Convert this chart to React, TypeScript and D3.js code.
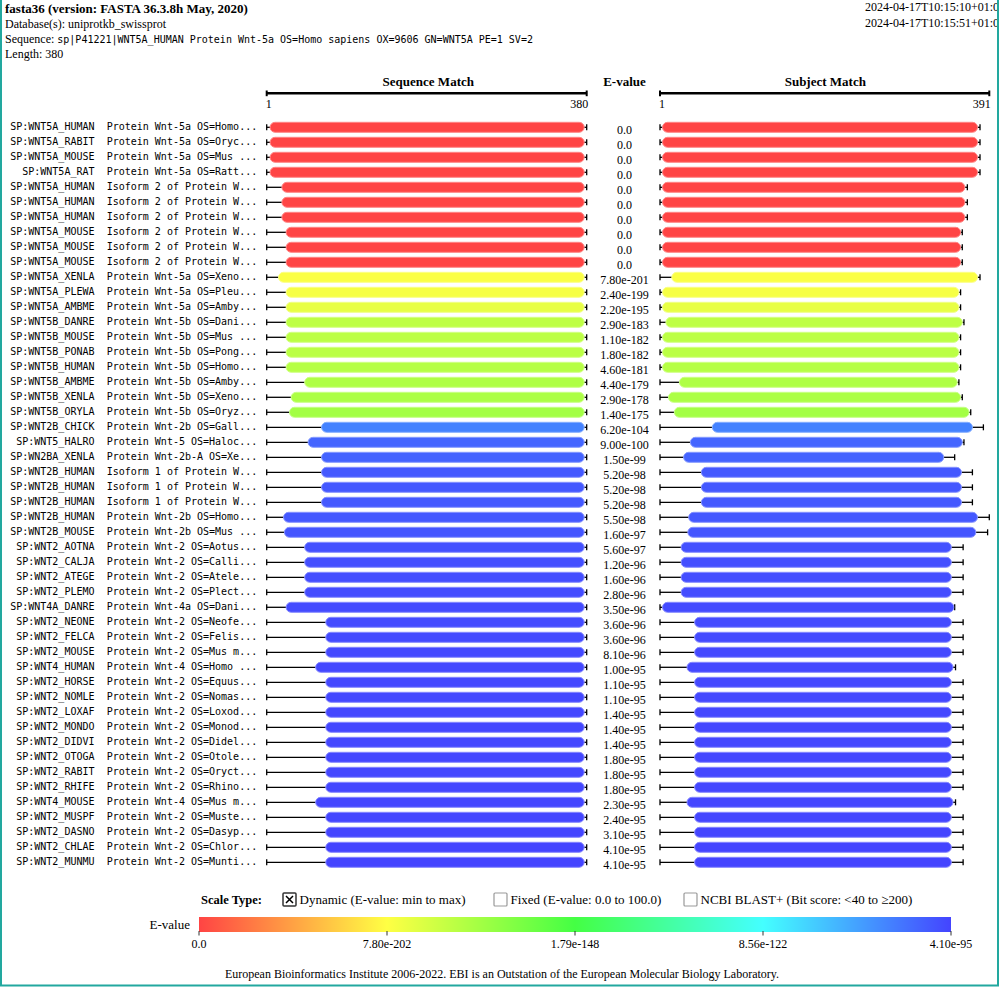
import * as d3 from "d3";

const QUERY_LEN = 380;
const SUBJECT_MAX = 391;

const hitIds = [
  "SP:WNT5A_HUMAN", "SP:WNT5A_RABIT", "SP:WNT5A_MOUSE", "SP:WNT5A_RAT", "SP:WNT5A_HUMAN",
  "SP:WNT5A_HUMAN", "SP:WNT5A_HUMAN", "SP:WNT5A_MOUSE", "SP:WNT5A_MOUSE", "SP:WNT5A_MOUSE",
  "SP:WNT5A_XENLA", "SP:WNT5A_PLEWA", "SP:WNT5A_AMBME", "SP:WNT5B_DANRE", "SP:WNT5B_MOUSE",
  "SP:WNT5B_PONAB", "SP:WNT5B_HUMAN", "SP:WNT5B_AMBME", "SP:WNT5B_XENLA", "SP:WNT5B_ORYLA",
  "SP:WNT2B_CHICK", "SP:WNT5_HALRO", "SP:WN2BA_XENLA", "SP:WNT2B_HUMAN", "SP:WNT2B_HUMAN",
  "SP:WNT2B_HUMAN", "SP:WNT2B_HUMAN", "SP:WNT2B_MOUSE", "SP:WNT2_AOTNA", "SP:WNT2_CALJA",
  "SP:WNT2_ATEGE", "SP:WNT2_PLEMO", "SP:WNT4A_DANRE", "SP:WNT2_NEONE", "SP:WNT2_FELCA",
  "SP:WNT2_MOUSE", "SP:WNT4_HUMAN", "SP:WNT2_HORSE", "SP:WNT2_NOMLE", "SP:WNT2_LOXAF",
  "SP:WNT2_MONDO", "SP:WNT2_DIDVI", "SP:WNT2_OTOGA", "SP:WNT2_RABIT", "SP:WNT2_RHIFE",
  "SP:WNT4_MOUSE", "SP:WNT2_MUSPF", "SP:WNT2_DASNO", "SP:WNT2_CHLAE", "SP:WNT2_MUNMU",
];

const hitDescs = [
  "Protein Wnt-5a OS=Homo...", "Protein Wnt-5a OS=Oryc...", "Protein Wnt-5a OS=Mus ...", "Protein Wnt-5a OS=Ratt...", "Isoform 2 of Protein W...",
  "Isoform 2 of Protein W...", "Isoform 2 of Protein W...", "Isoform 2 of Protein W...", "Isoform 2 of Protein W...", "Isoform 2 of Protein W...",
  "Protein Wnt-5a OS=Xeno...", "Protein Wnt-5a OS=Pleu...", "Protein Wnt-5a OS=Amby...", "Protein Wnt-5b OS=Dani...", "Protein Wnt-5b OS=Mus ...",
  "Protein Wnt-5b OS=Pong...", "Protein Wnt-5b OS=Homo...", "Protein Wnt-5b OS=Amby...", "Protein Wnt-5b OS=Xeno...", "Protein Wnt-5b OS=Oryz...",
  "Protein Wnt-2b OS=Gall...", "Protein Wnt-5 OS=Haloc...", "Protein Wnt-2b-A OS=Xe...", "Isoform 1 of Protein W...", "Isoform 1 of Protein W...",
  "Isoform 1 of Protein W...", "Protein Wnt-2b OS=Homo...", "Protein Wnt-2b OS=Mus ...", "Protein Wnt-2 OS=Aotus...", "Protein Wnt-2 OS=Calli...",
  "Protein Wnt-2 OS=Atele...", "Protein Wnt-2 OS=Plect...", "Protein Wnt-4a OS=Dani...", "Protein Wnt-2 OS=Neofe...", "Protein Wnt-2 OS=Felis...",
  "Protein Wnt-2 OS=Mus m...", "Protein Wnt-4 OS=Homo ...", "Protein Wnt-2 OS=Equus...", "Protein Wnt-2 OS=Nomas...", "Protein Wnt-2 OS=Loxod...",
  "Protein Wnt-2 OS=Monod...", "Protein Wnt-2 OS=Didel...", "Protein Wnt-2 OS=Otole...", "Protein Wnt-2 OS=Oryct...", "Protein Wnt-2 OS=Rhino...",
  "Protein Wnt-4 OS=Mus m...", "Protein Wnt-2 OS=Muste...", "Protein Wnt-2 OS=Dasyp...", "Protein Wnt-2 OS=Chlor...", "Protein Wnt-2 OS=Munti...",
];

const evalues = [
  "0.0", "0.0", "0.0", "0.0", "0.0", "0.0", "0.0", "0.0", "0.0", "0.0",
  "7.80e-201", "2.40e-199", "2.20e-195", "2.90e-183", "1.10e-182", "1.80e-182", "4.60e-181", "4.40e-179", "2.90e-178", "1.40e-175",
  "6.20e-104", "9.00e-100", "1.50e-99", "5.20e-98", "5.20e-98", "5.20e-98", "5.50e-98", "1.60e-97", "5.60e-97", "1.20e-96",
  "1.60e-96", "2.80e-96", "3.50e-96", "3.60e-96", "3.60e-96", "8.10e-96", "1.00e-95", "1.10e-95", "1.10e-95", "1.40e-95",
  "1.40e-95", "1.40e-95", "1.80e-95", "1.80e-95", "1.80e-95", "2.30e-95", "2.40e-95", "3.10e-95", "4.10e-95", "4.10e-95",
];

// query coordinates (residues)
const qStart = [
  5, 5, 5, 5, 19, 19, 19, 24, 24, 24,
  15, 24, 24, 24, 24, 24, 24, 46, 30, 28,
  66, 50, 66, 66, 66, 66, 21, 22, 46, 46,
  46, 46, 24, 71, 71, 71, 59, 71, 71, 71,
  71, 71, 71, 71, 71, 59, 71, 71, 71, 71,
];
const qEnd = qStart.map(() => 377);

// subject coordinates (residues) and subject lengths
const sStart = [
  4, 4, 4, 4, 4, 4, 4, 4, 4, 4,
  15, 4, 4, 8, 4, 4, 4, 24, 11, 18,
  63, 37, 29, 50, 50, 50, 35, 34, 26, 26,
  26, 26, 4, 42, 42, 42, 33, 42, 42, 42,
  42, 42, 42, 42, 42, 33, 42, 42, 42, 42,
];
const sEnd = [
  377, 377, 377, 377, 362, 362, 362, 357, 357, 357,
  377, 355, 355, 359, 355, 355, 355, 353, 357, 367,
  371, 359, 337, 358, 358, 358, 377, 375, 346, 346,
  346, 346, 349, 346, 346, 346, 348, 346, 346, 346,
  346, 346, 346, 346, 346, 348, 346, 346, 346, 346,
];
const sLen = [
  380, 380, 380, 380, 365, 365, 365, 359, 359, 359,
  380, 357, 357, 361, 357, 357, 357, 355, 359, 369,
  384, 361, 350, 371, 371, 371, 391, 389, 360, 360,
  360, 360, 350, 360, 360, 360, 351, 360, 360, 360,
  360, 360, 360, 360, 360, 351, 360, 360, 360, 360,
];

const legendTicks = ["0.0", "7.80e-202", "1.79e-148", "8.56e-122", "4.10e-95"];
const legendColors = ["#ff4444", "#ffff44", "#44ff44", "#44ffff", "#4444ff"];
const scaleOptions = ["Dynamic (E-value: min to max)", "Fixed (E-value: 0.0 to 100.0)", "NCBI BLAST+ (Bit score: <40 to \u2265200)"];

const W = 1000;
const H = 987;
const SERIF = "'Liberation Serif', 'Times New Roman', serif";
const MONO = "'DejaVu Sans Mono', monospace";
const TEAL = "#22a89f";

const xq = d3.scaleLinear().domain([1, QUERY_LEN]).range([266.7, 586.7]);
const xs = d3.scaleLinear().domain([1, SUBJECT_MAX]).range([660, 989.3]);
const rowY = d3
  .scalePoint<number>()
  .domain(hitIds.map((_, i) => i))
  .range([127.3, 127.3 + 15 * (hitIds.length - 1)]);

const tScale = d3
  .scaleLinear()
  .domain(legendTicks.slice(1).map((v) => Math.log10(Number(v))))
  .range([0.25, 0.5, 0.75, 1])
  .clamp(true);
const colorT = d3
  .scaleLinear<string>()
  .domain([0, 0.25, 0.5, 0.75, 1])
  .range(legendColors)
  .interpolate(d3.interpolateRgb);
const evalueColor = (e: string) => {
  const v = Number(e);
  return colorT(v <= 0 ? 0 : tScale(Math.log10(v)));
};
const legendX = d3.scaleLinear().domain([0, 1]).range([199, 951]);

function Track({
  y,
  x,
  start,
  end,
  len,
  fill,
}: {
  y: number;
  x: d3.ScaleLinear<number, number>;
  start: number;
  end: number;
  len: number;
  fill: string;
}) {
  const x0 = x(1);
  const x1 = x(start);
  const x2 = x(end);
  const x3 = x(len);
  const stroke = d3.interpolateRgb(fill, "#ffffff")(0.35);
  return (
    <g>
      <line x1={x0} x2={x1} y1={y} y2={y} stroke="#000" strokeWidth={1.3} />
      <line x1={x0} x2={x0} y1={y - 3} y2={y + 3} stroke="#000" strokeWidth={1.3} />
      <line x1={x2} x2={x3} y1={y} y2={y} stroke="#000" strokeWidth={1.3} />
      <line x1={x3} x2={x3} y1={y - 3} y2={y + 3} stroke="#000" strokeWidth={1.3} />
      <rect x={x1} y={y - 5} width={x2 - x1} height={10} rx={5} fill={fill} stroke={stroke} strokeWidth={1} />
    </g>
  );
}

function ScaleAxis({ x, max, label, cx }: { x: d3.ScaleLinear<number, number>; max: number; label: string; cx: number }) {
  const [a, b] = x.range();
  return (
    <g>
      <text x={cx} y={86} textAnchor="middle" fontFamily={SERIF} fontWeight="bold" fontSize={13}>
        {label}
      </text>
      <line x1={a} x2={b} y1={93.3} y2={93.3} stroke="#000" strokeWidth={2.5} />
      <line x1={a} x2={a} y1={90.5} y2={96.2} stroke="#000" strokeWidth={2} />
      <line x1={b} x2={b} y1={90.5} y2={96.2} stroke="#000" strokeWidth={2} />
      <text x={a - 1} y={108} fontFamily={SERIF} fontSize={12}>
        1
      </text>
      <text x={b + 1.5} y={108} textAnchor="end" fontFamily={SERIF} fontSize={12}>
        {max}
      </text>
    </g>
  );
}

export default function App() {
  return (
    <svg
      width={W}
      height={H}
      viewBox={`0 0 ${W} ${H}`}
      style={{ position: "absolute", left: 0, top: 0, background: "#fff" }}
    >
      <defs>
        <clipPath id="page-clip">
          <rect x={0} y={0} width={997} height={H} />
        </clipPath>
        <linearGradient id="evalue-grad" x1="0" x2="1" y1="0" y2="0">
          {legendColors.map((c, i) => (
            <stop key={i} offset={`${i * 25}%`} stopColor={c} />
          ))}
        </linearGradient>
      </defs>
      <rect x={0} y={0} width={W} height={H} fill="#fff" />

      <g clipPath="url(#page-clip)" fontFamily={SERIF} fontSize={12} fill="#000">
        <text x={5} y={13} fontWeight="bold" fontSize={13}>
          fasta36 (version: FASTA 36.3.8h May, 2020)
        </text>
        <text x={5} y={28}>Database(s): uniprotkb_swissprot</text>
        <text x={5} y={43}>
          Sequence:{" "}
          <tspan fontFamily={MONO} fontSize={10}>
            sp|P41221|WNT5A_HUMAN Protein Wnt-5a OS=Homo sapiens OX=9606 GN=WNT5A PE=1 SV=2
          </tspan>
        </text>
        <text x={5} y={58}>Length: 380</text>
        <text x={865} y={11}>2024-04-17T10:15:10+01:00</text>
        <text x={865} y={27}>2024-04-17T10:15:51+01:00</text>
      </g>

      <ScaleAxis x={xq} max={QUERY_LEN} label="Sequence Match" cx={428.3} />
      <ScaleAxis x={xs} max={SUBJECT_MAX} label="Subject Match" cx={825.3} />
      <text x={624.5} y={86} textAnchor="middle" fontFamily={SERIF} fontWeight="bold" fontSize={13}>
        E-value
      </text>

      {hitIds.map((id, i) => {
        const y = rowY(i) ?? 0;
        const fill = evalueColor(evalues[i]);
        return (
          <g key={i}>
            <text x={94.5} y={y + 3} textAnchor="end" fontFamily={MONO} fontSize={10}>
              {id}
            </text>
            <text x={106.7} y={y + 3} fontFamily={MONO} fontSize={10} xmlSpace="preserve">
              {hitDescs[i]}
            </text>
            <Track y={y} x={xq} start={qStart[i]} end={qEnd[i]} len={QUERY_LEN} fill={fill} />
            <text x={624.5} y={y + 6.8} textAnchor="middle" fontFamily={SERIF} fontSize={12}>
              {evalues[i]}
            </text>
            <Track y={y} x={xs} start={sStart[i]} end={sEnd[i]} len={sLen[i]} fill={fill} />
          </g>
        );
      })}

      {/* scale type selector */}
      <g fontFamily={SERIF} fontSize={13}>
        <text x={201} y={904} fontWeight="bold" fontSize={12.5}>
          Scale Type:
        </text>
        {scaleOptions.map((label, i) => {
          const bx = [283, 494, 684][i];
          return (
            <g key={label}>
              <rect
                x={bx}
                y={893}
                width={13}
                height={13}
                fill="#fff"
                stroke={i === 0 ? "#333" : "#999"}
                strokeWidth={i === 0 ? 1.5 : 1.2}
                rx={1}
              />
              {i === 0 && (
                <path d={`M${bx + 3},${896} L${bx + 10},${903} M${bx + 10},${896} L${bx + 3},${903}`} stroke="#000" strokeWidth={1.5} />
              )}
              <text x={bx + 16.5} y={904}>
                {label}
              </text>
            </g>
          );
        })}
      </g>

      {/* E-value colour legend */}
      <text x={190} y={929} textAnchor="end" fontFamily={SERIF} fontSize={13}>
        E-value
      </text>
      <rect x={legendX(0)} y={917} width={legendX(1) - legendX(0)} height={15} fill="url(#evalue-grad)" />
      {legendTicks.map((t, i) => {
        const x = legendX(i / (legendTicks.length - 1));
        return (
          <g key={t}>
            <line x1={x} x2={x} y1={931} y2={935.5} stroke="#333" strokeWidth={1} />
            <text x={x} y={948} textAnchor="middle" fontFamily={SERIF} fontSize={12}>
              {t}
            </text>
          </g>
        );
      })}

      <text x={502} y={978} textAnchor="middle" fontFamily={SERIF} fontSize={12}>
        European Bioinformatics Institute 2006-2022. EBI is an Outstation of the European Molecular Biology Laboratory.
      </text>

      {/* page frame */}
      <line x1={1} x2={1} y1={0} y2={986} stroke={TEAL} strokeWidth={2} />
      <line x1={998} x2={998} y1={0} y2={986} stroke={TEAL} strokeWidth={2} />
      <line x1={0} x2={999} y1={985.5} y2={985.5} stroke={TEAL} strokeWidth={2} />
    </svg>
  );
}
